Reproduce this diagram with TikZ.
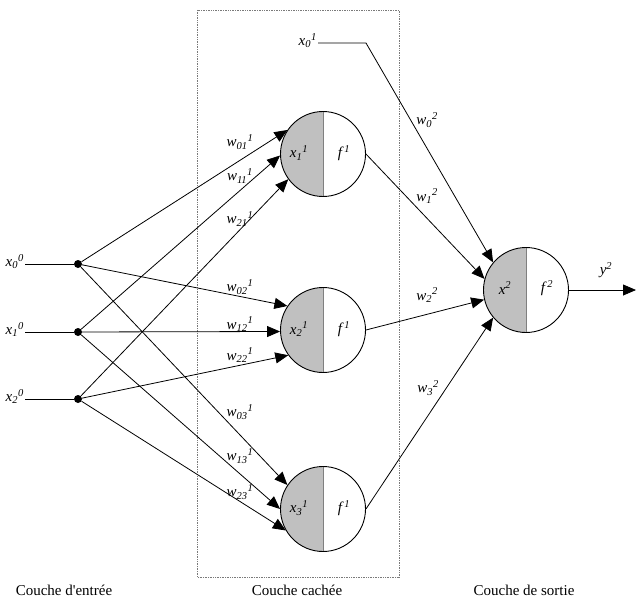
\documentclass[tikz,border=0pt]{standalone}
\usepackage{fontspec}
\setmainfont{Liberation Serif}
\usepackage{tikz}
\usetikzlibrary{arrows.meta}
\definecolor{somagray}{HTML}{C0C0C0}
\definecolor{boxgray}{HTML}{7A7A7A}
\tikzset{
  neuron/.style={circle,draw=black,line width=0.9pt,minimum size=85pt,inner sep=0pt,
                 path picture={
                   \fill[somagray] (path picture bounding box.south west)
                     rectangle (path picture bounding box.north);
                   \draw[gray,line width=0.8pt] (path picture bounding box.south)
                     -- (path picture bounding box.north);}},
  dot/.style={circle,fill=black,inner sep=0pt,minimum size=8pt},
  lbl/.style={font=\fontsize{15}{18}\selectfont\itshape,inner sep=1pt},
  layer/.style={font=\fontsize{15}{18}\selectfont,inner sep=1pt},
  wire/.style={line width=0.8pt,draw=black},
  arr/.style={-{Triangle[length=13pt,width=11pt]},line width=0.8pt,draw=black},
  hidbox/.style={draw=boxgray,densely dotted,line width=0.7pt}
}
\begin{document}
\begin{tikzpicture}[x=1pt,y=-1pt]
    \path[use as bounding box] (0,0) rectangle (637,599);

    % hidden layer frame
    \draw[hidbox] (197,10) rectangle (399,577);

    % input layer
    \node[dot] (in0) at (78,264) {};
    \node[dot] (in1) at (78,332) {};
    \node[dot] (in2) at (78,399) {};
    \node[lbl,anchor=mid east] (lx0) at (25,264) {x\textsubscript{0}\textsuperscript{0}};
    \node[lbl,anchor=mid east] (lx1) at (25,332) {x\textsubscript{1}\textsuperscript{0}};
    \node[lbl,anchor=mid east] (lx2) at (25,399) {x\textsubscript{2}\textsuperscript{0}};
    \draw[wire] (lx0.mid east) -- (in0);
    \draw[wire] (lx1.mid east) -- (in1);
    \draw[wire] (lx2.mid east) -- (in2);

    % hidden neurons
    \node[neuron] (h1) at (323,154) {};
    \node[neuron] (h2) at (323,330) {};
    \node[neuron] (h3) at (323,509) {};
    \node[lbl] (hx1) at (299,153) {x\textsubscript{1}\textsuperscript{1}};
    \node[lbl] (hx2) at (299,329) {x\textsubscript{2}\textsuperscript{1}};
    \node[lbl] (hx3) at (299,508) {x\textsubscript{3}\textsuperscript{1}};
    \node[lbl] (hf1) at (344,153) {f\,\textsuperscript{1}};
    \node[lbl] (hf2) at (344,329) {f\,\textsuperscript{1}};
    \node[lbl] (hf3) at (344,508) {f\,\textsuperscript{1}};

    % output neuron
    \node[neuron] (out) at (526,290) {};
    \node[lbl] (ox) at (505,288) {x\textsuperscript{2}};
    \node[lbl] (of) at (547,288) {f\,\textsuperscript{2}};
    \coordinate (yend) at (636,290);
    \node[lbl] (ly) at (606,270) {y\textsuperscript{2}};

    % input -> hidden
    \draw[arr] (in0) -- (h1.146);
    \draw[arr] (in1) -- (h1.182);
    \draw[arr] (in2) -- (h1.216);
    \draw[arr] (in0) -- (h2.146);
    \draw[arr] (in1) -- (h2.182);
    \draw[arr] (in2) -- (h2.216);
    \draw[arr] (in0) -- (h3.146);
    \draw[arr] (in1) -- (h3.180);
    \draw[arr] (in2) -- (h3.210);

    \node[lbl] (w011) at (240,142) {w\textsubscript{01}\textsuperscript{1}};
    \node[lbl] (w111) at (240,176) {w\textsubscript{11}\textsuperscript{1}};
    \node[lbl] (w211) at (240,219) {w\textsubscript{21}\textsuperscript{1}};
    \node[lbl] (w021) at (240,287) {w\textsubscript{02}\textsuperscript{1}};
    \node[lbl] (w121) at (240,324) {w\textsubscript{12}\textsuperscript{1}};
    \node[lbl] (w221) at (240,355) {w\textsubscript{22}\textsuperscript{1}};
    \node[lbl] (w031) at (240,412) {w\textsubscript{03}\textsuperscript{1}};
    \node[lbl] (w131) at (240,456) {w\textsubscript{13}\textsuperscript{1}};
    \node[lbl] (w231) at (240,492) {w\textsubscript{23}\textsuperscript{1}};

    % bias of the output layer
    \node[lbl,anchor=mid east] (bias) at (318,43) {x\textsubscript{0}\textsuperscript{1}};
    \coordinate (kink) at (366,43);
    \draw[arr] (bias.mid east) -- (kink) -- (out.140);

    % hidden -> output
    \draw[arr] (h1.east) -- (out.165);
    \draw[arr] (h2.east) -- (out.193);
    \draw[arr] (h3.east) -- (out.220);
    \draw[arr] (out.east) -- (yend);

    \node[lbl] (w02) at (427,120) {w\textsubscript{0}\textsuperscript{2}};
    \node[lbl] (w12) at (427,196) {w\textsubscript{1}\textsuperscript{2}};
    \node[lbl] (w22) at (427,295) {w\textsubscript{2}\textsuperscript{2}};
    \node[lbl] (w32) at (428,388) {w\textsubscript{3}\textsuperscript{2}};

    % layer names
    \node[layer] (lin) at (64,590) {Couche d\textquotesingle entrée};
    \node[layer] (lhid) at (297,590) {Couche cachée};
    \node[layer] (lout) at (524,590) {Couche de sortie};
  \end{tikzpicture}
\end{document}
